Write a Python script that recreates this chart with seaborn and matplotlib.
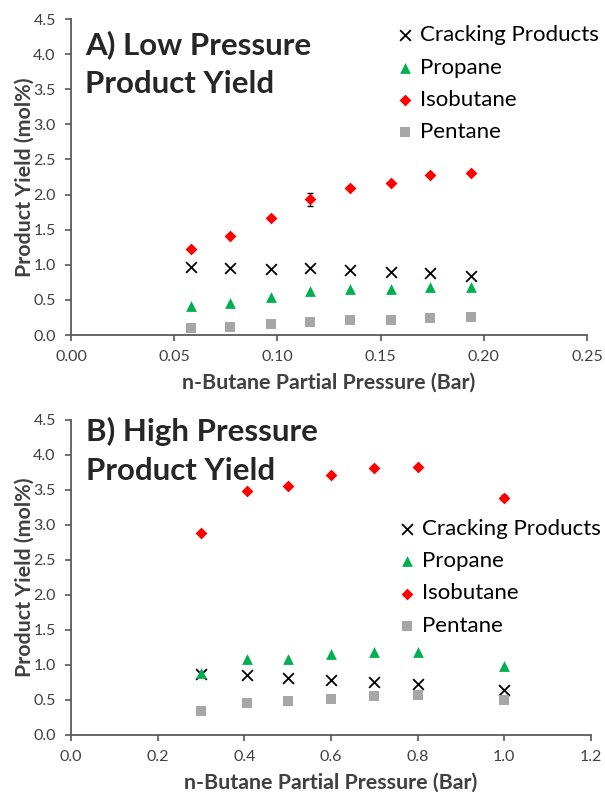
import numpy as np
import pandas as pd
import matplotlib
import matplotlib.pyplot as plt
import seaborn as sns

plt.switch_backend('agg')

# panel A: low pressure
low_p = [0.058, 0.077, 0.097, 0.116, 0.135, 0.155, 0.174, 0.194]
low_cracking = [0.97, 0.95, 0.94, 0.95, 0.93, 0.90, 0.88, 0.84]
low_propane = [0.41, 0.46, 0.54, 0.62, 0.66, 0.66, 0.69, 0.69]
low_isobutane = [1.22, 1.41, 1.67, 1.93, 2.09, 2.16, 2.28, 2.31]
low_isobutane_err = [0.0, 0.0, 0.0, 0.09, 0.0, 0.0, 0.0, 0.0]
low_pentane = [0.10, 0.12, 0.16, 0.19, 0.21, 0.22, 0.24, 0.25]

# panel B: high pressure
high_p = [0.30, 0.405, 0.50, 0.60, 0.70, 0.80, 1.00]
high_cracking = [0.87, 0.86, 0.81, 0.78, 0.76, 0.73, 0.64]
high_propane = [0.88, 1.09, 1.09, 1.16, 1.19, 1.18, 0.98]
high_isobutane = [2.89, 3.48, 3.55, 3.71, 3.82, 3.83, 3.39]
high_isobutane_err = [0.0, 0.0, 0.0, 0.0, 0.0, 0.0, 0.04]
high_pentane = [0.34, 0.45, 0.48, 0.52, 0.56, 0.57, 0.50]

series = ["Cracking Products", "Propane", "Isobutane", "Pentane"]
colors = {"Cracking Products": "black", "Propane": "#00b050",
          "Isobutane": "#ff0000", "Pentane": "#a6a6a6"}
markers = {"Cracking Products": "x", "Propane": "^",
           "Isobutane": "D", "Pentane": "s"}
sizes = {"Cracking Products": 60, "Propane": 60, "Isobutane": 36, "Pentane": 60}

sns.set_style("white")
plt.rcParams['font.family'] = ['Lato', 'DejaVu Sans']


def long_df(p, crack, prop, iso, pent):
    frames = []
    for name, vals in zip(series, [crack, prop, iso, pent]):
        frames.append(pd.DataFrame({'p': p, 'y': vals, 'series': name}))
    return pd.concat(frames, ignore_index=True)


def panel(ax, d, err_x, err_y, err, title, title_y, xlim, xticks, xfmt, legend_anchor):
    # error bars under the markers
    ax.errorbar(err_x, err_y, yerr=err, fmt='none', ecolor='black',
                elinewidth=0.9, capsize=2, zorder=1)
    for name in series:
        sub = d[d['series'] == name]
        sns.scatterplot(data=sub, x='p', y='y', ax=ax, color=colors[name],
                        marker=markers[name], s=sizes[name],
                        linewidth=1.3 if name == "Cracking Products" else 0,
                        label=name, zorder=3)
    ax.set_xlim(*xlim)
    ax.set_ylim(0, 4.5)
    ax.set_xticks(xticks)
    ax.set_xticklabels([xfmt.format(t) for t in xticks])
    yt = np.arange(0, 4.51, 0.5)
    ax.set_yticks(yt)
    ax.set_yticklabels([f"{t:.1f}" for t in yt])
    ax.tick_params(axis='both', labelsize=11.5, labelcolor='#404040',
                   color='#595959', direction='out', length=4, width=1.2,
                   pad=7, left=True, bottom=True)
    for s in ['top', 'right']:
        ax.spines[s].set_visible(False)
    for s in ['left', 'bottom']:
        ax.spines[s].set_color('#595959')
        ax.spines[s].set_linewidth(1.3)
    ax.set_xlabel("n-Butane Partial Pressure (Bar)", fontsize=15.4,
                  fontweight='bold', color='#404040', va='top')
    ax.set_ylabel("Product Yield (mol%)", fontsize=15.4, fontweight='bold',
                  color='#404040')
    ax.xaxis.set_label_coords(0.5, -0.12)
    ax.yaxis.set_label_coords(-0.07, 0.5)
    ax.text(0.028, title_y, title, transform=ax.transAxes, fontsize=22.5,
            fontweight='bold', va='top', ha='left', linespacing=1.47)
    leg = ax.legend(loc='upper left', bbox_to_anchor=legend_anchor,
                    frameon=False, fontsize=16, handlelength=0.8,
                    handletextpad=0.28, labelspacing=0.55, borderaxespad=0,
                    borderpad=0)
    for t in leg.get_texts():
        t.set_color('black')


fig = plt.figure(figsize=(6.05, 7.92), dpi=100)
ax1 = fig.add_axes([0.1174, 0.577, 0.8529, 0.399])
ax2 = fig.add_axes([0.1174, 0.072, 0.8595, 0.3977])

low = long_df(low_p, low_cracking, low_propane, low_isobutane, low_pentane)
high = long_df(high_p, high_cracking, high_propane, high_isobutane, high_pentane)

panel(ax1, low, low_p, low_isobutane, low_isobutane_err,
      "A) Low Pressure\nProduct Yield", 0.965, (0, 0.25),
      [0, 0.05, 0.10, 0.15, 0.20, 0.25], "{:.2f}", (0.63, 0.98))
panel(ax2, high, high_p, high_isobutane, high_isobutane_err,
      "B) High Pressure\nProduct Yield", 1.01, (0, 1.2),
      [0, 0.2, 0.4, 0.6, 0.8, 1.0, 1.2], "{:.1f}", (0.629, 0.686))

fig.savefig("out.png", dpi=100)
